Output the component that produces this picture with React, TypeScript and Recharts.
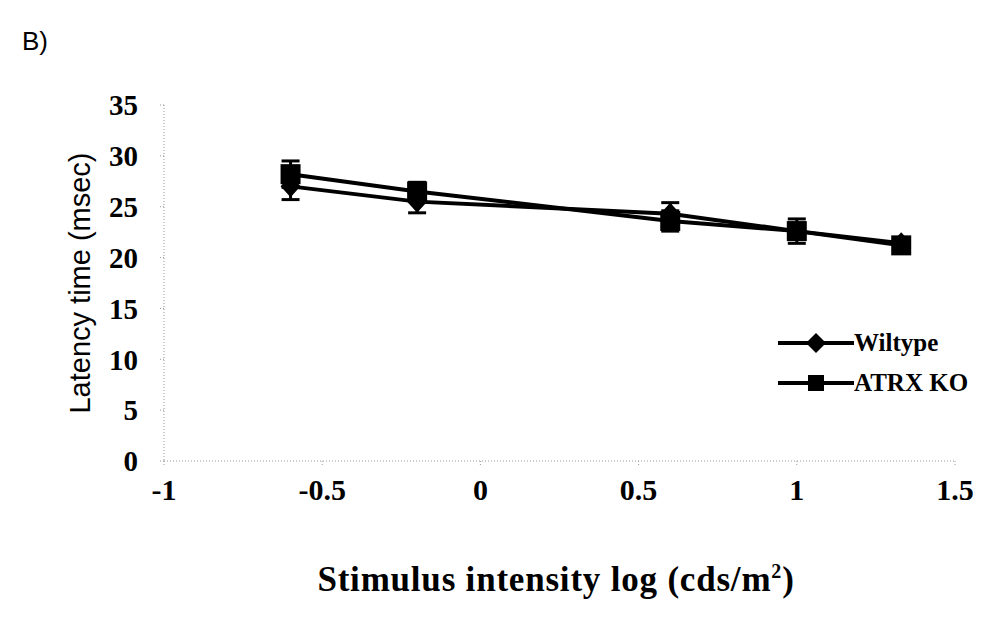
import React from "react";
import { ErrorBar, Line, LineChart, XAxis, YAxis } from "recharts";

const intensity = [-0.6, -0.2, 0.6, 1.0, 1.33];
const wildtype = [27.0, 25.5, 24.3, 22.6, 21.4];
const wildtypeErr = [1.3, 1.1, 1.1, 0.8, 0.5];
const atrxKo = [28.2, 26.5, 23.6, 22.6, 21.2];
const atrxKoErr = [1.3, 0.9, 1.0, 1.2, 0.6];
const xTicks = [-1, -0.5, 0, 0.5, 1, 1.5];
const yTicks = [0, 5, 10, 15, 20, 25, 30, 35];

const data = intensity.map((x, i) => ({
  x,
  wt: wildtype[i],
  wtErr: wildtypeErr[i],
  ko: atrxKo[i],
  koErr: atrxKoErr[i],
}));

const serif = "'Liberation Serif', 'Times New Roman', serif";
const sans = "'Liberation Sans', Arial, sans-serif";

function Diamond(props: any) {
  const { cx, cy } = props;
  if (cx == null || cy == null) return null;
  const r = 11;
  return (
    <path
      d={`M${cx},${cy - r}L${cx + r - 1},${cy}L${cx},${cy + r}L${cx - r + 1},${cy}Z`}
      fill="#000"
    />
  );
}

function Square(props: any) {
  const { cx, cy } = props;
  if (cx == null || cy == null) return null;
  return <rect x={cx - 10} y={cy - 10} width={20} height={20} fill="#000" />;
}

function LegendBox() {
  const row = (label: string, marker: React.ReactNode) => (
    <div style={{ display: "flex", alignItems: "center", height: 40 }}>
      <svg width={76} height={20}>
        <line x1={0} y1={10} x2={76} y2={10} stroke="#000" strokeWidth={4} />
        {marker}
      </svg>
      <span style={{ fontFamily: serif, fontWeight: 700, fontSize: 25, marginLeft: 0 }}>{label}</span>
    </div>
  );
  return (
    <div style={{ position: "absolute", left: 778, top: 323 }}>
      {row("Wiltype", <path d="M38,0L48,10L38,20L28,10Z" fill="#000" />)}
      {row("ATRX KO", <rect x={30} y={2} width={16} height={16} fill="#000" />)}
    </div>
  );
}

export default function App() {
  return (
    <div style={{ position: "absolute", left: 0, top: 0, width: 981, height: 618, background: "#fff" }}>
      <div style={{ position: "absolute", left: 22, top: 26, fontFamily: sans, fontSize: 26 }}>B)</div>
      <div
        style={{
          position: "absolute",
          left: 80,
          top: 283,
          transform: "translate(-50%, -50%) rotate(-90deg)",
          whiteSpace: "nowrap",
          fontFamily: sans,
          fontSize: 29,
        }}
      >
        Latency time (msec)
      </div>
      <div
        style={{
          position: "absolute",
          left: 556,
          top: 580,
          transform: "translate(-50%, -50%)",
          whiteSpace: "nowrap",
          fontFamily: serif,
          fontWeight: 700,
          fontSize: 35,
          letterSpacing: 0.8,
        }}
      >
        Stimulus intensity log (cds/m<sup style={{ fontSize: 20 }}>2</sup>)
      </div>
      <LineChart
        width={981}
        height={618}
        data={data}
        margin={{ top: 105, right: 26, bottom: 107, left: 104 }}
      >
        <XAxis
          dataKey="x"
          type="number"
          domain={[-1, 1.5]}
          ticks={xTicks}
          height={50}
          stroke="#999"
          strokeDasharray="1 2"
          tickSize={4}
          tickMargin={14}
          tick={{ fill: "#000", fontFamily: serif, fontWeight: 700, fontSize: 30 }}
        />
        <YAxis
          type="number"
          domain={[0, 35]}
          ticks={yTicks}
          width={60}
          stroke="#999"
          strokeDasharray="1 2"
          tickSize={4}
          tickMargin={22}
          tick={{ fill: "#000", fontFamily: serif, fontWeight: 700, fontSize: 29 }}
        />
        <Line
          dataKey="wt"
          name="Wiltype"
          stroke="#000"
          strokeWidth={4}
          dot={<Diamond />}
          activeDot={false}
          isAnimationActive={false}
        >
          <ErrorBar dataKey="wtErr" width={9} stroke="#000" strokeWidth={3} direction="y" />
        </Line>
        <Line
          dataKey="ko"
          name="ATRX KO"
          stroke="#000"
          strokeWidth={4}
          dot={<Square />}
          activeDot={false}
          isAnimationActive={false}
        >
          <ErrorBar dataKey="koErr" width={9} stroke="#000" strokeWidth={3} direction="y" />
        </Line>
      </LineChart>
      <LegendBox />
    </div>
  );
}
